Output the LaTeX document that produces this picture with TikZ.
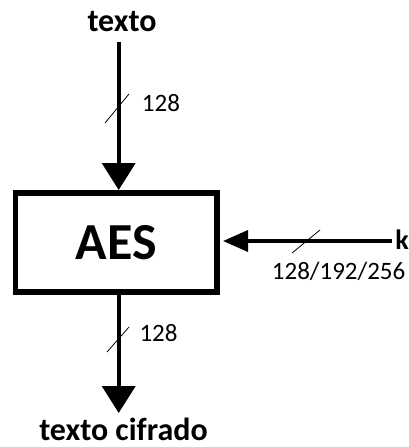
\documentclass[tikz,border=0pt]{standalone}
\usepackage{fontspec}
\setmainfont{Carlito}
\usetikzlibrary{arrows.meta}
\begin{document}
\begin{tikzpicture}[x=1pt,y=-1pt,
  lbl/.style={font=\fontsize{32}{36}\selectfont\bfseries, inner sep=0pt, anchor=base},
  bits/.style={font=\fontsize{25}{28}\selectfont, inner sep=0pt, anchor=base west},
  bigarrow/.style={line width=4pt, -{Triangle[width=33pt,length=27pt]}},
  keyarrow/.style={line width=3.4pt, -{Triangle[width=21pt,length=25pt]}},
  slash/.style={line width=0.8pt},
  blockbox/.style={draw, line width=5.8pt, minimum width=201.2pt, minimum height=98.7pt, inner sep=0pt, font=\fontsize{52}{56}\selectfont\bfseries}]
\useasboundingbox (0,0) rectangle (409,447);
\node[blockbox] (aes) at (116.1,242.35) {AES};
\node[lbl] (in) at (122,31.7) {texto};
\node[lbl] (out) at (123.5,440) {texto cifrado};
\node[lbl, font=\fontsize{28}{30}\selectfont\bfseries, anchor=base east] (k) at (409,249) {k};
\coordinate (inStart) at (118.7,42);
\coordinate (inEnd) at (118.7,190);
\coordinate (outStart) at (118.7,295);
\coordinate (outEnd) at (118.7,413);
\coordinate (kStart) at (392,241);
\coordinate (kEnd) at (223,241);
\draw[bigarrow] (inStart) -- (inEnd);
\draw[bigarrow] (outStart) -- (outEnd);
\draw[keyarrow] (kStart) -- (kEnd);
\draw[slash] (105,123) -- (129,94);
\draw[slash] (107,352) -- (129,327);
\draw[slash] (292,253) -- (320,230);
\node[bits] (b1) at (141.7,111.7) {128};
\node[bits] (b2) at (139.3,341.7) {128};
\node[bits] (b3) at (271.7,279) {128/192/256};
\end{tikzpicture}
\end{document}
